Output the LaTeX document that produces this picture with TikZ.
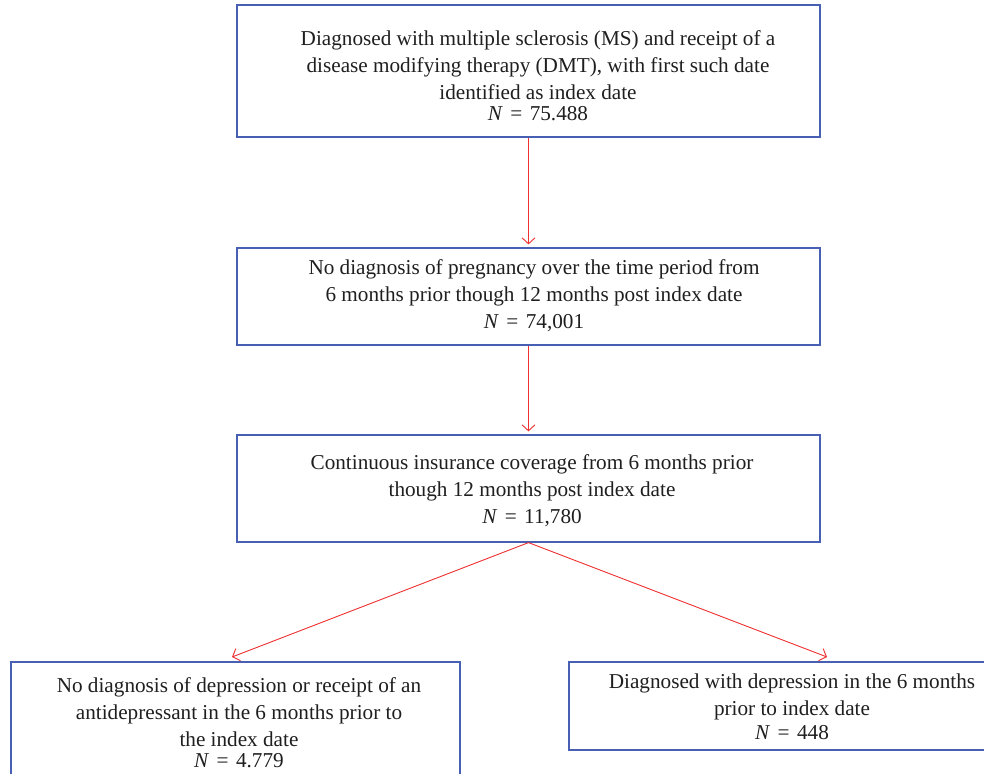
\documentclass[tikz,border=0pt]{standalone}
\usepackage{fontspec}
\setmainfont{Liberation Serif}
\usetikzlibrary{arrows.meta}
\definecolor{boxblue}{RGB}{72,96,180}
\definecolor{arrred}{RGB}{238,48,48}
\newcommand{\Nval}[1]{\textit{N}\hspace{0.35em}=\hspace{0.35em}#1}
\begin{document}
\begin{tikzpicture}[x=1pt,y=-1pt,
  box/.style={draw=boxblue,line width=1.2pt,minimum width=#1,inner sep=0pt},
  txt/.style={align=center,font=\fontsize{21.2}{27}\selectfont,text=black!88,inner sep=0pt},
  arr/.style={draw=arrred,line width=0.9pt,-{Straight Barb[length=6pt,width=13pt]}}]
\useasboundingbox (0,0) rectangle (984,773);
\clip (0,0) rectangle (984,773);
\fill[white] (0,0) rectangle (984,773);
% boxes
\node[box=583pt,minimum height=132pt] (b1) at (528.5,71) {};
\node[box=583pt,minimum height=97pt] (b2) at (528.5,296.5) {};
\node[box=583pt,minimum height=107pt] (b3) at (528.5,488.5) {};
\node[box=449pt,minimum height=150pt] (b4) at (235.5,737) {};
\node[box=431pt,minimum height=88pt] (b5) at (784.5,706) {};
% texts
\node[txt] (t1) at (538,75.5) {Diagnosed with multiple sclerosis (MS) and receipt of a\\disease modifying therapy (DMT), with first such date\\identified as index date\\[-6pt]\Nval{75.488}};
\node[txt] (t2) at (534,296) {No diagnosis of pregnancy over the time period from\\6 months prior though 12 months post index date\\\Nval{74,001}};
\node[txt] (t3) at (532,491) {Continuous insurance coverage from 6 months prior\\though 12 months post index date\\\Nval{11,780}};
\node[txt] (t4) at (239,723) {No diagnosis of depression or receipt of an\\antidepressant in the 6 months prior to\\the index date\\[-6pt]\Nval{4.779}};
\node[txt] (t5) at (792,707) {Diagnosed with depression in the 6 months\\prior to index date\\[-3pt]\Nval{448}};
% connectors
\coordinate (e4) at (232,657);
\coordinate (e5) at (827,657);
\draw[arr,shorten >=3pt] (b1.south) -- (b2.north);
\draw[arr,shorten >=3pt] (b2.south) -- (b3.north);
\draw[arr] (b3.south) -- (e4);
\draw[arr] (b3.south) -- (e5);
\end{tikzpicture}
\end{document}
